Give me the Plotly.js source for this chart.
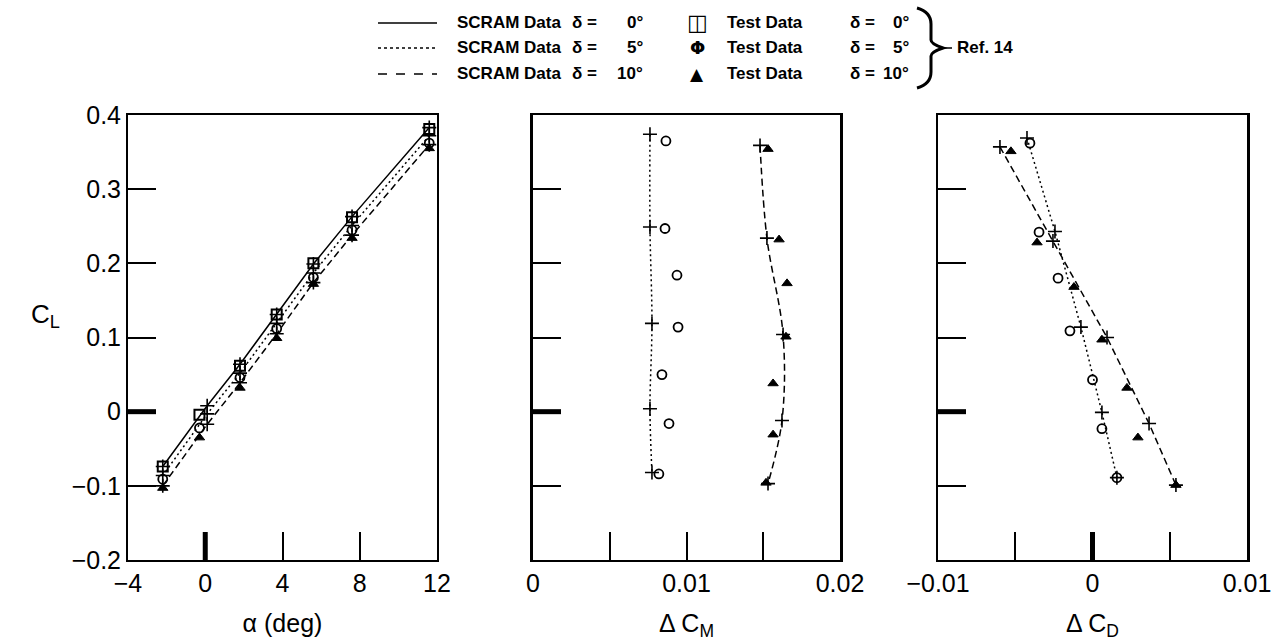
<!DOCTYPE html>
<html>
<head>
<meta charset="utf-8">
<script src="https://cdn.plot.ly/plotly-3.0.1.min.js"></script>
<style>html,body{margin:0;padding:0;background:#fff;}#chart{width:1283px;height:643px;}</style>
</head>
<body>
<div id="chart"></div>
<script>
// ---------- DATA ----------
// Left panel: C_L vs alpha
const alphaTest = [-2.2, -0.3, 1.8, 3.7, 5.6, 7.6, 11.6];
const clTest0  = [-0.074, -0.004, 0.062, 0.131, 0.200, 0.262, 0.381];
const clTest5  = [-0.091, -0.022, 0.046, 0.112, 0.181, 0.245, 0.362];
const clTest10 = [-0.103, -0.035, 0.032, 0.099, 0.172, 0.234, 0.355];
const alphaScram = [-2.2, 0.1, 1.8, 3.7, 5.6, 7.6, 11.6];
const clScram0  = [-0.074, 0.008, 0.064, 0.131, 0.199, 0.263, 0.383];
const clScram5  = [-0.086, -0.003, 0.052, 0.119, 0.187, 0.251, 0.372];
const clScram10 = [-0.100, -0.017, 0.039, 0.105, 0.174, 0.238, 0.360];

// Middle panel: C_L vs delta C_M
const cmScram5   = [0.00762, 0.00762, 0.00775, 0.00762, 0.00775];
const cmScram5CL = [0.374, 0.249, 0.119, 0.004, -0.082];
const cmTest5    = [0.00866, 0.00860, 0.00938, 0.00945, 0.00840, 0.00886, 0.00820];
const cmTest5CL  = [0.365, 0.247, 0.184, 0.114, 0.050, -0.016, -0.084];
const cmScram10   = [0.01479, 0.01524, 0.01629, 0.01622, 0.01531];
const cmScram10CL = [0.359, 0.234, 0.104, -0.012, -0.097];
const cmTest10    = [0.01531, 0.01603, 0.01655, 0.01648, 0.01564, 0.01564, 0.01518];
const cmTest10CL  = [0.354, 0.232, 0.173, 0.101, 0.038, -0.031, -0.096];

// Right panel: C_L vs delta C_D
const cdScram5   = [-0.00424, -0.00243, -0.00075, 0.00061, 0.00158];
const cdScram5CL = [0.369, 0.243, 0.114, -0.001, -0.089];
const cdTest5    = [-0.00405, -0.00346, -0.00223, -0.00146, 0.00000, 0.00061, 0.00158];
const cdTest5CL  = [0.362, 0.242, 0.180, 0.109, 0.043, -0.023, -0.089];
const cdScram10   = [-0.00599, -0.00256, 0.00094, 0.00366, 0.00540];
const cdScram10CL = [0.357, 0.230, 0.100, -0.016, -0.099];
const cdTest10    = [-0.00528, -0.00359, -0.00120, 0.00061, 0.00223, 0.00294, 0.00540];
const cdTest10CL  = [0.351, 0.228, 0.168, 0.097, 0.032, -0.035, -0.099];

// Ticks
const clTickVals = [-0.2, -0.1, 0, 0.1, 0.2, 0.3, 0.4];
const clTickText = ["\u22120.2", "\u22120.1", "0", "0.1", "0.2", "0.3", "0.4"];
const alphaTickVals = [-4, 0, 4, 8, 12];
const alphaTickText = ["\u22124", "0", "4", "8", "12"];
const cmTickVals = [0, 0.01, 0.02];
const cmTickText = ["0", "0.01", "0.02"];
const cmMinorTicks = [0.005, 0.015];
const cdTickVals = [-0.01, 0, 0.01];
const cdTickText = ["\u22120.01", "0", "0.01"];
const cdMinorTicks = [-0.005, 0.005];
const zeroTick = 0;

// Titles and legend text
const xTitles = ["\u03b1 (deg)", "\u0394 C<sub>M</sub>", "\u0394 C<sub>D</sub>"];
const yTitle = "C<sub>L</sub>";
const scramLabel = "SCRAM Data";
const testLabel = "Test Data";
const deltaLabels = ["0\u00b0", "5\u00b0", "10\u00b0"];
const refLabel = "Ref. 14";

// ---------- LAYOUT HELPERS ----------
const ML = 128, MR = 36, MT = 115, MB = 83, W = 1283, H = 643;
const PW = W - ML - MR, PH = H - MT - MB;
const PX = p => (p - ML) / PW;
const PY = p => (H - MB - p) / PH;
const FONT = "Liberation Sans, Arial, Helvetica, sans-serif";
const BLACK = "#000";
const TICKLEN = 28;

const cross = {symbol: "cross-thin-open", size: 10, color: BLACK, line: {color: BLACK, width: 1.6}};
const sq = {symbol: "square-open", size: 10, color: BLACK, line: {color: BLACK, width: 2}};
const circ = {symbol: "circle-open", size: 9, color: BLACK, line: {color: BLACK, width: 1.8}};
const tri = {symbol: "triangle-up", size: 9, color: BLACK, line: {color: BLACK, width: 1}};
const DOT = "2px,3px", DASH = "7px,4px";

function tr(x, y, xa, ya, mode, marker, line) {
  const t = {x: x, y: y, xaxis: xa, yaxis: ya, mode: mode, showlegend: false, hoverinfo: "skip"};
  if (marker) t.marker = marker;
  if (line) t.line = line;
  return t;
}

const data = [
  // left
  tr(alphaScram, clScram0, "x", "y", "lines+markers", cross, {color: BLACK, width: 1.5}),
  tr(alphaScram, clScram5, "x", "y", "lines+markers", cross, {color: BLACK, width: 1.5, dash: DOT}),
  tr(alphaScram, clScram10, "x", "y", "lines+markers", cross, {color: BLACK, width: 1.5, dash: DASH}),
  tr(alphaTest, clTest0, "x", "y", "markers", sq),
  tr(alphaTest, clTest5, "x", "y", "markers", circ),
  tr(alphaTest, clTest10, "x", "y", "markers", tri),
  // middle
  tr(cmScram5, cmScram5CL, "x2", "y2", "lines+markers", cross, {color: BLACK, width: 1.5, dash: DOT, shape: "spline"}),
  tr(cmScram10, cmScram10CL, "x2", "y2", "lines+markers", cross, {color: BLACK, width: 1.5, dash: DASH, shape: "spline"}),
  tr(cmTest5, cmTest5CL, "x2", "y2", "markers", circ),
  tr(cmTest10, cmTest10CL, "x2", "y2", "markers", tri),
  // right
  tr(cdScram5, cdScram5CL, "x3", "y3", "lines+markers", cross, {color: BLACK, width: 1.5, dash: DOT}),
  tr(cdScram10, cdScram10CL, "x3", "y3", "lines+markers", cross, {color: BLACK, width: 1.5, dash: DASH}),
  tr(cdTest5, cdTest5CL, "x3", "y3", "markers", circ),
  tr(cdTest10, cdTest10CL, "x3", "y3", "markers", tri)
];

const d1 = [0, PX(437)], d2 = [PX(533), PX(840)], d3 = [PX(938), 1];
const base = {
  showline: true, linecolor: BLACK, linewidth: 2, mirror: true,
  ticks: "inside", ticklen: TICKLEN, tickwidth: 2, tickcolor: BLACK,
  showgrid: false, zeroline: false, fixedrange: true,
  tickfont: {family: FONT, size: 25, color: BLACK}
};
const xTitle = t => ({text: t, standoff: 18, font: {family: FONT, size: 25, color: BLACK}});
const minorTicks = vals => ({tickmode: "array", tickvals: vals, ticks: "inside", ticklen: TICKLEN, tickwidth: 2, tickcolor: BLACK, showgrid: false});
const yr = [-0.2, 0.4];

const layout = {
  width: W, height: H,
  margin: {l: ML, r: MR, t: MT, b: MB, pad: 0},
  paper_bgcolor: "#fff", plot_bgcolor: "#fff",
  font: {family: FONT, color: BLACK},
  xaxis: Object.assign({}, base, {domain: d1, range: [-4, 12], tickvals: alphaTickVals, ticktext: alphaTickText, anchor: "y", title: xTitle(xTitles[0])}),
  yaxis: Object.assign({}, base, {range: yr, tickvals: clTickVals, ticktext: clTickText, anchor: "x"}),
  xaxis2: Object.assign({}, base, {domain: d2, range: [0, 0.02], tickvals: cmTickVals, ticktext: cmTickText, anchor: "y2", minor: minorTicks(cmMinorTicks), title: xTitle(xTitles[1])}),
  yaxis2: Object.assign({}, base, {range: yr, tickvals: clTickVals, showticklabels: false, anchor: "x2", linewidth: 3}),
  xaxis3: Object.assign({}, base, {domain: d3, range: [-0.01, 0.01], tickvals: cdTickVals, ticktext: cdTickText, anchor: "y3", minor: minorTicks(cdMinorTicks), title: xTitle(xTitles[2])}),
  yaxis3: Object.assign({}, base, {range: yr, tickvals: clTickVals, showticklabels: false, anchor: "x3", linewidth: 2.5}),
  shapes: [],
  annotations: []
};

// thick zero ticks (drawn on the axes' own scales)
function xZeroTick(xref) {
  return {type: "line", xref: xref, yref: "paper", x0: zeroTick, x1: zeroTick, y0: 0, y1: TICKLEN / PH, line: {color: BLACK, width: 5}};
}
function yZeroTick(yref, dom) {
  return {type: "line", xref: "paper", yref: yref, x0: dom[0], x1: dom[0] + TICKLEN / PW, y0: zeroTick, y1: zeroTick, line: {color: BLACK, width: 5}};
}
layout.shapes.push(xZeroTick("x"), yZeroTick("y", d1), yZeroTick("y2", d2), xZeroTick("x3"), yZeroTick("y3", d3));

function ann(text, x, y, size, xanchor, bold, fam) {
  return {text: bold ? "<b>" + text + "</b>" : text, xref: "paper", yref: "paper", x: x, y: y,
    xanchor: xanchor || "center", yanchor: "middle", showarrow: false,
    font: {family: fam || FONT, size: size, color: BLACK}};
}
layout.annotations.push(ann(yTitle, PX(45), PY(315), 26));

// legend (manual)
const rows = [23, 48, 74];
const dashes = ["solid", "dot", "dash"];
const testSym = ["\u25eb", "\u03a6", "\u25b2"];
const symSize = [22, 18, 17];
rows.forEach((ry, i) => {
  layout.shapes.push({type: "line", xref: "paper", yref: "paper", x0: PX(378), x1: PX(437), y0: PY(ry), y1: PY(ry),
    line: {color: BLACK, width: 1.3, dash: dashes[i]}});
  layout.annotations.push(ann(scramLabel, PX(455), PY(ry), 17, "left", true));
  layout.annotations.push(ann("\u03b4 =", PX(570), PY(ry), 17, "left", true));
  layout.annotations.push(ann(deltaLabels[i], PX(645), PY(ry), 17, "right", true));
  layout.annotations.push(ann(testSym[i], PX(697), PY(ry), symSize[i], "center", true, "DejaVu Sans, sans-serif"));
  layout.annotations.push(ann(testLabel, PX(725), PY(ry), 17, "left", true));
  layout.annotations.push(ann("\u03b4 =", PX(848), PY(ry), 17, "left", true));
  layout.annotations.push(ann(deltaLabels[i], PX(911), PY(ry), 17, "right", true));
});
// brace
const bp = [[917, 8], [931, 12], [931, 24], [931, 40], [931, 44], [943, 48], [931, 52], [931, 56], [931, 72], [931, 84], [917, 88]];
const P = p => PX(p[0]) + "," + PY(p[1]);
const bracePath = "M" + P(bp[0]) + " Q" + P(bp[1]) + " " + P(bp[2]) + " L" + P(bp[3]) +
  " Q" + P(bp[4]) + " " + P(bp[5]) + " Q" + P(bp[6]) + " " + P(bp[7]) + " L" + P(bp[8]) +
  " Q" + P(bp[9]) + " " + P(bp[10]);
layout.shapes.push({type: "path", xref: "paper", yref: "paper", path: bracePath, line: {color: BLACK, width: 3}});
layout.shapes.push({type: "line", xref: "paper", yref: "paper", x0: PX(943), x1: PX(952), y0: PY(48), y1: PY(48), line: {color: BLACK, width: 1.5}});
layout.annotations.push(ann(refLabel, PX(955), PY(48), 17, "left", true));

Plotly.newPlot("chart", data, layout, {displayModeBar: false, staticPlot: true});
</script>
</body>
</html>
